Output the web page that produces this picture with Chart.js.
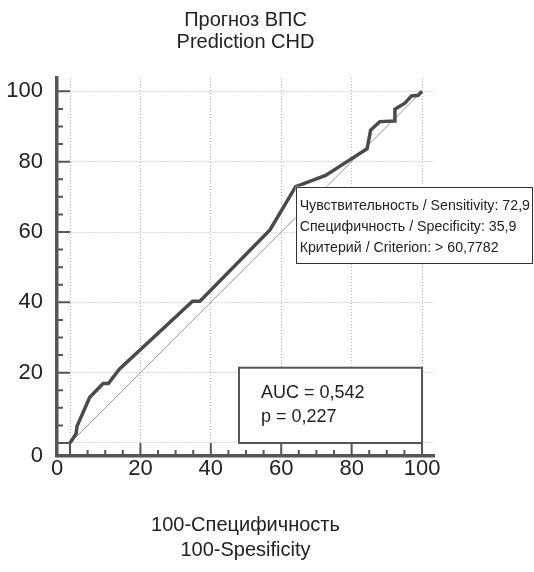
<!DOCTYPE html>
<html>
<head>
<meta charset="utf-8">
<script src="https://cdn.jsdelivr.net/npm/chart.js@4.4.1/dist/chart.umd.min.js"></script>
<style>
  html, body { margin: 0; padding: 0; background: #fff; }
  #wrap { width: 534px; height: 572px; }
</style>
</head>
<body>
<div id="wrap"><canvas id="rocChart"></canvas></div>
<script>
'use strict';

// Data
const titleLines = ['Прогноз ВПС', 'Prediction CHD'];
const xTitleLines = ['100-Специфичность', '100-Spesificity'];
const tickValues = [0, 20, 40, 60, 80, 100];

// ROC curve: x = 100-Specificity, y = Sensitivity
const rocX = [0, 1.7, 2.0, 5.6, 9.4, 10.9, 14.0, 34.8, 36.9, 56.8, 64.1, 72.6, 84.4, 85.4, 88.0, 92.2, 92.3, 95.2, 97.0, 98.9, 100];
const rocY = [0, 2.6, 4.8, 13.0, 16.9, 16.9, 21.0, 40.3, 40.3, 60.6, 72.9, 76.1, 83.7, 89.0, 91.4, 91.6, 94.9, 96.7, 98.7, 98.9, 100];
const diagX = [0, 100];
const diagY = [0, 100];

const criterionPoint = [64.1, 72.9];
const criterionLines = [
  'Чувствительность / Sensitivity: 72,9',
  'Специфичность / Specificity: 35,9',
  'Критерий / Criterion: > 60,7782'
];
const aucLines = ['AUC = 0,542', 'p = 0,227'];
const aucBox = [48, 21.4, 100, 0]; // left, top, right, bottom in axis units

// Axis range (the axes sit a bit outside 0..100)
const axisMin = -3.7;
const xMax = 103.4;
const yMax = 103.8;

const FONT = 'Liberation Sans, Arial, sans-serif';

function toPoints(xs, ys){
  return xs.map((v, i) => ({x: v, y: ys[i]}));
}

function buildTicks(scale){
  scale.ticks = [{value: axisMin}].concat(tickValues.map(v => ({value: v})));
}

function tickLabel(value){
  if (value < 0) return '0';
  if (value === 0) return '';
  return String(value);
}

// Inward tick marks on both axes
const axisMarks = {
  id: 'axisMarks',
  beforeDatasetsDraw(chart){
    const {ctx, chartArea, scales: {x, y}} = chart;
    const majorX = x.getPixelForValue(0) - chartArea.left;
    const majorY = chartArea.bottom - y.getPixelForValue(0);
    ctx.save();
    ctx.strokeStyle = '#555';
    ctx.lineWidth = 2;
    for (let v = 0; v <= 100; v += 5){
      const major = v % 20 === 0;
      const px = x.getPixelForValue(v);
      const py = y.getPixelForValue(v);
      ctx.beginPath();
      ctx.moveTo(px, chartArea.bottom);
      ctx.lineTo(px, chartArea.bottom - (major ? majorY : 6));
      ctx.moveTo(chartArea.left, py);
      ctx.lineTo(chartArea.left + (major ? majorX : 6), py);
      ctx.stroke();
    }
    ctx.restore();
  }
};

// Text boxes
const infoBoxes = {
  id: 'infoBoxes',
  afterDatasetsDraw(chart){
    const {ctx, scales: {x, y}} = chart;
    ctx.save();

    // criterion box, top-left corner on the curve point
    let bx = x.getPixelForValue(criterionPoint[0]);
    let by = y.getPixelForValue(criterionPoint[1]);
    ctx.fillStyle = '#fff';
    ctx.strokeStyle = '#333';
    ctx.lineWidth = 1;
    ctx.fillRect(bx, by, 532 - bx, 76);
    ctx.strokeRect(Math.round(bx) + 0.5, Math.round(by) + 0.5, Math.round(532 - bx), 76);
    ctx.fillStyle = '#222';
    ctx.font = '14.2px ' + FONT;
    ctx.textBaseline = 'middle';
    criterionLines.forEach((line, i) => {
      ctx.fillText(line, bx + 4, by + 19 + i * 21);
    });

    // AUC box
    bx = x.getPixelForValue(aucBox[0]);
    by = y.getPixelForValue(aucBox[1]);
    const bw = x.getPixelForValue(aucBox[2]) - bx;
    const bh = y.getPixelForValue(aucBox[3]) - by;
    ctx.fillStyle = '#fff';
    ctx.fillRect(bx, by, bw, bh);
    ctx.strokeStyle = '#555';
    ctx.lineWidth = 2;
    ctx.strokeRect(bx, by, bw, bh);
    ctx.fillStyle = '#222';
    ctx.font = '18px ' + FONT;
    aucLines.forEach((line, i) => {
      ctx.fillText(line, bx + 22, by + 25 + i * 24);
    });

    ctx.restore();
  }
};

let chartContext = document.getElementById('rocChart');

let chartTemplate = {
  type: 'scatter',
  data: {
    datasets: [{
      label: 'ROC',
      data: toPoints(rocX, rocY),
      showLine: true,
      borderColor: '#4a4a4a',
      borderWidth: 3.5,
      pointRadius: 0,
      borderJoinStyle: 'miter'
    },
    {
      label: 'Diagonal',
      data: toPoints(diagX, diagY),
      showLine: true,
      borderColor: '#7a7a7a',
      borderWidth: 0.8,
      pointRadius: 0
    }]
  },
  options: {
    responsive: true,
    maintainAspectRatio: false,
    animation: false,
    layout: {
      padding: {left: 0, right: 100, top: 0, bottom: 0}
    },
    plugins: {
      legend: {display: false},
      tooltip: {enabled: false},
      title: {
        display: true,
        text: titleLines,
        fullSize: false,
        color: '#222',
        font: {family: FONT, size: 20, weight: 'normal', lineHeight: 1.1},
        padding: {top: 9, bottom: 25}
      }
    },
    scales: {
      x: {
        type: 'linear',
        min: axisMin,
        max: xMax,
        afterBuildTicks: buildTicks,
        afterFit: (scale) => { scale.height = 116; },
        grid: {
          color: (c) => (c.tick && c.tick.value < 0 ? 'rgba(0,0,0,0)' : '#b5b5b5'),
          lineWidth: 1,
          drawTicks: false
        },
        border: {display: true, color: '#555', width: 3.5, dash: [1, 2]},
        ticks: {
          autoSkip: false,
          maxRotation: 0,
          padding: 2,
          color: '#222',
          font: {family: FONT, size: 22, lineHeight: 1},
          callback: tickLabel
        },
        title: {
          display: true,
          text: xTitleLines,
          color: '#222',
          font: {family: FONT, size: 20, lineHeight: 1.25},
          padding: {top: 0, bottom: 9.5}
        }
      },
      y: {
        type: 'linear',
        min: axisMin,
        max: yMax,
        afterBuildTicks: buildTicks,
        afterFit: (scale) => { scale.width = 57; },
        grid: {
          color: (c) => (c.tick && c.tick.value < 0 ? 'rgba(0,0,0,0)' : '#b5b5b5'),
          lineWidth: 1,
          drawTicks: false
        },
        border: {display: true, color: '#555', width: 3.5, dash: [1, 2]},
        ticks: {
          autoSkip: false,
          padding: 14,
          color: '#222',
          font: {family: FONT, size: 22, lineHeight: 1},
          callback: tickLabel
        }
      }
    }
  },
  plugins: [axisMarks, infoBoxes]
};

new Chart(chartContext, chartTemplate); // eslint-disable-line
</script>
</body>
</html>
